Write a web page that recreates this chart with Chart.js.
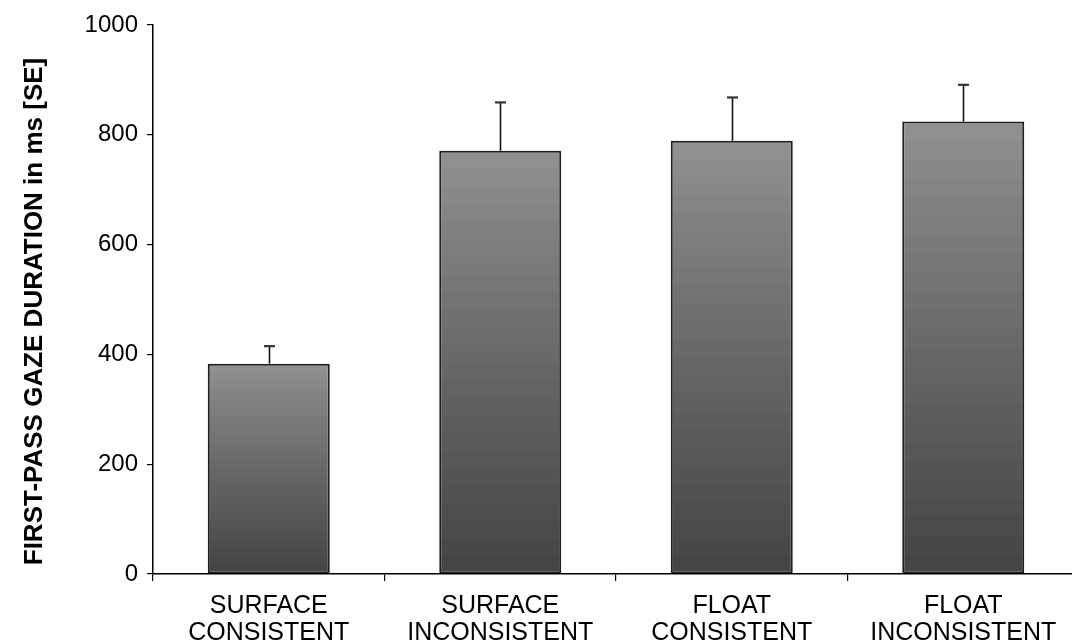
<!DOCTYPE html>
<html>
<head>
<meta charset="utf-8">
<script src="https://cdn.jsdelivr.net/npm/chart.js@4/dist/chart.umd.min.js"></script>
<style>
  html, body { margin: 0; padding: 0; background: #fff; overflow: hidden; }
  #clip { width: 1072px; height: 644px; overflow: hidden; position: relative; }
  #wrap { width: 1080px; height: 644px; position: absolute; left: 0; top: 0; }
</style>
</head>
<body>
<div id="clip"><div id="wrap"><canvas id="c"></canvas></div></div>
<script>
const categories = [
  ['SURFACE', 'CONSISTENT'],
  ['SURFACE', 'INCONSISTENT'],
  ['FLOAT', 'CONSISTENT'],
  ['FLOAT', 'INCONSISTENT']
];
const meanDurations = [383, 771, 789, 824];
const standardErrors = [32, 88, 79, 67];
const yTicks = [0, 200, 400, 600, 800, 1000];
const yTitle = 'FIRST-PASS GAZE DURATION in ms [SE]';

const FONT = "'Liberation Sans', Arial, Helvetica, sans-serif";

function bandedGradient(ctx) {
  const chart = ctx.chart;
  const area = chart.chartArea;
  if (!area || ctx.type !== 'data') return '#777';
  const y = chart.scales.y;
  const top = y.getPixelForValue(ctx.raw);
  const bot = y.getPixelForValue(0);
  const g = chart.ctx.createLinearGradient(0, top, 0, bot);
  const N = 24;
  const light = 0x90, dark = 0x45;
  for (let i = 0; i < N; i++) {
    const t = i / (N - 1);
    const v = Math.round(light - (light - dark) * Math.pow(t, 0.9));
    const c = `rgb(${v},${v},${v})`;
    g.addColorStop(i / N, c);
    g.addColorStop(Math.min(1, (i + 1) / N - 0.0001), c);
  }
  return g;
}

const errorBars = {
  id: 'errorBars',
  afterDatasetsDraw(chart) {
    const meta = chart.getDatasetMeta(0);
    const y = chart.scales.y;
    const c = chart.ctx;
    c.save();
    meta.data.forEach((el, i) => {
      const x = Math.round(el.x) + 0.5;
      const y0 = y.getPixelForValue(meanDurations[i]);
      const y1 = y.getPixelForValue(meanDurations[i] + standardErrors[i]);
      c.lineWidth = 1.6;
      c.strokeStyle = '#111';
      c.beginPath();
      c.moveTo(x, y0);
      c.lineTo(x, y1);
      c.stroke();
      c.lineWidth = 2.2;
      c.strokeStyle = '#333';
      c.beginPath();
      c.moveTo(x - 5.5, y1);
      c.lineTo(x + 5.5, y1);
      c.stroke();
    });
    c.restore();
  }
};

const axisTitle = {
  id: 'axisTitle',
  afterDraw(chart) {
    const c = chart.ctx;
    const area = chart.chartArea;
    c.save();
    c.translate(35, (area.top + area.bottom) / 2 + 12);
    c.rotate(-Math.PI / 2);
    c.font = `bold 26px ${FONT}`;
    c.fillStyle = '#000';
    c.textAlign = 'center';
    c.textBaseline = 'middle';
    c.fillText(yTitle, 0, 0);
    c.restore();
  }
};

new Chart(document.getElementById('c'), {
  type: 'bar',
  data: {
    labels: categories,
    datasets: [{
      data: meanDurations,
      backgroundColor: bandedGradient,
      borderColor: '#1e1e1e',
      borderWidth: 2,
      borderSkipped: false,
      categoryPercentage: 1,
      barPercentage: 0.527
    }]
  },
  options: {
    responsive: true,
    maintainAspectRatio: false,
    animation: false,
    layout: { padding: { top: 25, right: 1, left: 0, bottom: 0 } },
    plugins: { legend: { display: false }, tooltip: { enabled: false } },
    scales: {
      x: {
        grid: { display: true, drawOnChartArea: false, offset: true, tickLength: 7, color: '#000', lineWidth: 1.2 },
        border: { display: true, color: '#000', width: 1.5 },
        ticks: { color: '#000', font: { family: FONT, size: 25, lineHeight: 1.08 }, padding: 12, maxRotation: 0, autoSkip: false },
        afterFit(scale) { scale.height = 70; }
      },
      y: {
        min: 0, max: 1000,
        afterBuildTicks(scale) { scale.ticks = yTicks.map(v => ({ value: v })); },
        grid: { display: true, drawOnChartArea: false, tickLength: 6, color: '#000', lineWidth: 1.2 },
        border: { display: true, color: '#000', width: 1.5 },
        ticks: { color: '#000', font: { family: FONT, size: 24 }, padding: 9, callback: (v) => String(v) },
        afterFit(scale) { scale.width = 153; }
      }
    }
  },
  plugins: [errorBars, axisTitle]
});
</script>
</body>
</html>
